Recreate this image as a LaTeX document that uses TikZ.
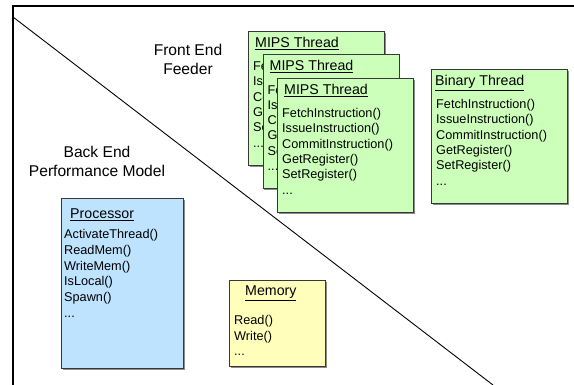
\documentclass[tikz,border=0pt]{standalone}
\usepackage{fontspec}
\setmainfont{Liberation Sans}
\usepackage{tikz}
\usetikzlibrary{calc,shadows}
\definecolor{threadgreen}{HTML}{CCFFBA}
\definecolor{procblue}{HTML}{BDE3FF}
\definecolor{memyellow}{HTML}{FFFFBB}
\definecolor{boxedge}{HTML}{383838}
\newcommand{\moredots}{...}
\tikzstyle{frame} = [line width=1.2pt, black]
\tikzstyle{classbox} = [draw=boxedge, line width=0.9pt, inner sep=0pt, anchor=north west,
  drop shadow={shadow xshift=1.3pt, shadow yshift=-1.3pt, fill=black!45, opacity=1}]
\tikzstyle{classtitle} = [anchor=west, inner sep=0pt, font=\fontsize{14.2}{17}\selectfont, text height=0.72em, text depth=0.22em]
\tikzstyle{method} = [anchor=west, inner sep=0pt, font=\fontsize{12.7}{15}\selectfont, text height=0.72em, text depth=0.2em]
\tikzstyle{region} = [align=center, inner sep=0pt, font=\fontsize{15.6}{19}\selectfont]

\begin{document}
\begin{tikzpicture}[x=1pt, y=-1pt]
\useasboundingbox (0,0) rectangle (574,385);

% frame and front/back split
\coordinate (ftr) at (574,6);
\coordinate (ftl) at (13,6);
\coordinate (fbl) at (13,385);
\coordinate (dtop) at (13,17);
\coordinate (dbot) at (493,385);
\draw[frame] (ftr) -- (ftl) -- (fbl);
\draw[line width=0.9pt] (dtop) -- (dbot);

\node[region] (frontend) at (188,59.5) {Front End\\Feeder};
\node[region] (backend) at (97,161.5) {Back End\\Performance Model};

% stacked MIPS threads
\foreach \k in {0,1,2} {
  \node[classbox, fill=threadgreen, minimum width=136pt, minimum height=134pt]
    (mips\k) at ({248+14.5*\k},{31+23.5*\k}) {};
  \node[classtitle] (mipstitle\k) at ($(mips\k.north west)+(7,14)$) {\underline{MIPS Thread}};
  \foreach [count=\i from 0] \m in {FetchInstruction(),IssueInstruction(),CommitInstruction(),GetRegister(),SetRegister(),\moredots}
    \node[method] (mipsm\k-\i) at ($(mips\k.north west)+(5,{37+15.3*\i})$) {\m};
}

% binary thread
\node[classbox, fill=threadgreen, minimum width=136pt, minimum height=134pt] (binary) at (431,69) {};
\node[classtitle] (binarytitle) at ($(binary.north west)+(4,14)$) {\underline{Binary Thread}};
\foreach [count=\i from 0] \m in {FetchInstruction(),IssueInstruction(),CommitInstruction(),GetRegister(),SetRegister(),\moredots}
  \node[method] (binarym\i) at ($(binary.north west)+(5,{37+15.3*\i})$) {\m};

% processor
\node[classbox, fill=procblue, minimum width=122pt, minimum height=170pt] (proc) at (61,198) {};
\node[classtitle] (proctitle) at ($(proc.north west)+(9,18)$) {\underline{Processor}};
\foreach [count=\i from 0] \m in {ActivateThread(),ReadMem(),WriteMem(),IsLocal(),Spawn(),\moredots}
  \node[method] (procm\i) at ($(proc.north west)+(3,{38+15.8*\i})$) {\m};

% memory
\node[classbox, fill=memyellow, minimum width=96pt, minimum height=86pt] (mem) at (229,280) {};
\node[classtitle] (memtitle) at ($(mem.north west)+(16,13)$) {\underline{Memory}};
\foreach [count=\i from 0] \m in {Read(),Write(),\moredots}
  \node[method] (memm\i) at ($(mem.north west)+(5,{42+15.5*\i})$) {\m};
\end{tikzpicture}
\end{document}
